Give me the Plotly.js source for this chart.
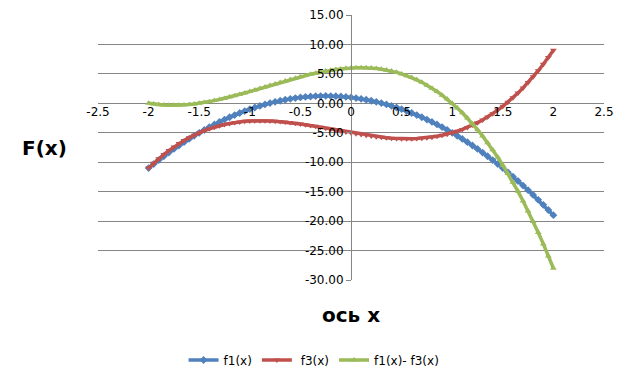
<!DOCTYPE html>
<html><head><meta charset="utf-8">
<script src="https://cdn.plot.ly/plotly-3.0.1.min.js"></script>
<style>html,body{margin:0;padding:0;background:#fff}#chart{width:629px;height:378px}</style>
</head><body><div id="chart"></div>
<script>
const xValues = [-2,-1.95,-1.9,-1.85,-1.8,-1.75,-1.7,-1.65,-1.6,-1.55,-1.5,-1.45,-1.4,-1.35,-1.3,-1.25,-1.2,-1.15,-1.1,-1.05,-1,-0.95,-0.9,-0.85,-0.8,-0.75,-0.7,-0.65,-0.6,-0.55,-0.5,-0.45,-0.4,-0.35,-0.3,-0.25,-0.2,-0.15,-0.1,-0.05,0,0.05,0.1,0.15,0.2,0.25,0.3,0.35,0.4,0.45,0.5,0.55,0.6,0.65,0.7,0.75,0.8,0.85,0.9,0.95,1,1.05,1.1,1.15,1.2,1.25,1.3,1.35,1.4,1.45,1.5,1.55,1.6,1.65,1.7,1.75,1.8,1.85,1.9,1.95,2];
const f1 = [-11,-10.31,-9.64,-8.99,-8.36,-7.75,-7.16,-6.59,-6.04,-5.51,-5,-4.51,-4.04,-3.59,-3.16,-2.75,-2.36,-1.99,-1.64,-1.31,-1,-0.71,-0.44,-0.19,0.04,0.25,0.44,0.61,0.76,0.89,1,1.09,1.16,1.21,1.24,1.25,1.24,1.21,1.16,1.09,1,0.89,0.76,0.61,0.44,0.25,0.04,-0.19,-0.44,-0.71,-1,-1.31,-1.64,-1.99,-2.36,-2.75,-3.16,-3.59,-4.04,-4.51,-5,-5.51,-6.04,-6.59,-7.16,-7.75,-8.36,-8.99,-9.64,-10.31,-11,-11.71,-12.44,-13.19,-13.96,-14.75,-15.56,-16.39,-17.24,-18.11,-19];
const f3 = [-11,-10.18,-9.41,-8.69,-8.02,-7.41,-6.84,-6.31,-5.83,-5.4,-5,-4.64,-4.33,-4.05,-3.8,-3.59,-3.42,-3.27,-3.15,-3.06,-3,-2.96,-2.95,-2.96,-2.98,-3.03,-3.1,-3.18,-3.27,-3.38,-3.5,-3.63,-3.77,-3.91,-4.06,-4.22,-4.38,-4.53,-4.69,-4.85,-5,-5.15,-5.29,-5.42,-5.54,-5.66,-5.76,-5.84,-5.91,-5.97,-6,-6.01,-6.01,-5.98,-5.92,-5.84,-5.74,-5.6,-5.43,-5.23,-5,-4.73,-4.43,-4.09,-3.7,-3.28,-2.82,-2.31,-1.75,-1.15,-0.5,0.2,0.95,1.76,2.62,3.53,4.5,5.54,6.63,7.78,9];
const diff = [0,-0.13,-0.23,-0.3,-0.34,-0.34,-0.32,-0.28,-0.21,-0.11,0,0.13,0.29,0.46,0.64,0.84,1.06,1.28,1.51,1.75,2,2.25,2.51,2.77,3.02,3.28,3.54,3.79,4.03,4.27,4.5,4.72,4.93,5.12,5.3,5.47,5.62,5.74,5.85,5.94,6,6.04,6.05,6.03,5.98,5.91,5.8,5.65,5.47,5.26,5,4.7,4.37,3.99,3.56,3.09,2.58,2.01,1.39,0.72,0,-0.78,-1.61,-2.5,-3.46,-4.47,-5.54,-6.68,-7.89,-9.16,-10.5,-11.91,-13.39,-14.95,-16.58,-18.28,-20.06,-21.93,-23.87,-25.93,-28];
const seriesNames = ["f1(x)", " f3(x)", "f1(x)- f3(x)"];
const xTickVals = [-2.5,-2,-1.5,-1,-0.5,0,0.5,1,1.5,2,2.5];
const xTickText = ["-2.5","-2","-1.5","-1","-0.5","0","0.5","1","1.5","2","2.5"];
const yTickVals = [15,10,5,0,-5,-10,-15,-20,-25,-30];
const yTickText = ["15.00","10.00","5.00","0.00","-5.00","-10.00","-15.00","-20.00","-25.00","-30.00"];
const xTitle = "ось х";
const yTitle = "F(x)";

const colors = ["#4F81BD", "#C0504D", "#9BBB59"];
const symbols = ["diamond", "triangle-down", "triangle-up"];
const ys = [f1, f3, diff];
const data = ys.map((y, i) => ({
  x: xValues, y: y, type: "scatter", mode: "lines+markers", name: seriesNames[i],
  line: {color: colors[i], width: 3.5},
  marker: {color: colors[i], symbol: symbols[i], size: 6}
}));

const font = {family: "DejaVu Sans, Verdana, sans-serif", size: 12, color: "#000"};
const titleFont = {family: "DejaVu Sans, sans-serif", size: 20, color: "#000", weight: "bold"};
const layout = {
  width: 629, height: 378,
  margin: {l: 98, r: 25, t: 15, b: 98, autoexpand: false},
  paper_bgcolor: "#fff", plot_bgcolor: "#fff",
  font: font,
  showlegend: true,
  legend: {orientation: "h", x: 0.427, xanchor: "center", y: (280-360)/265, yanchor: "middle",
           font: font, itemwidth: 30, tracegroupgap: 0},
  xaxis: {range: [-2.5, 2.5], anchor: "free", position: 2/3, showgrid: false, zeroline: false,
          showline: false, ticks: "", tickvals: xTickVals, ticktext: xTickText,
          tickfont: font, fixedrange: true, automargin: false},
  yaxis: {range: [-30, 15], anchor: "free", position: 0.5, showgrid: true, gridcolor: "#868686",
          gridwidth: 1, zeroline: false, showline: true, linecolor: "#868686", linewidth: 1,
          ticks: "outside", ticklen: 5, tickcolor: "#868686",
          tickvals: yTickVals, ticktext: yTickText, tickfont: font, fixedrange: true, automargin: false},
  annotations: [
    {text: yTitle, xref: "paper", yref: "paper", x: (44-98)/506, y: (280-148)/265, showarrow: false,
     xanchor: "center", yanchor: "middle", font: titleFont},
    {text: xTitle, xref: "paper", yref: "paper", x: (351-98)/506, y: (280-315)/265, showarrow: false,
     xanchor: "center", yanchor: "middle", font: titleFont}
  ]
};
Plotly.newPlot("chart", data, layout, {displayModeBar: false, staticPlot: true});
</script></body></html>
